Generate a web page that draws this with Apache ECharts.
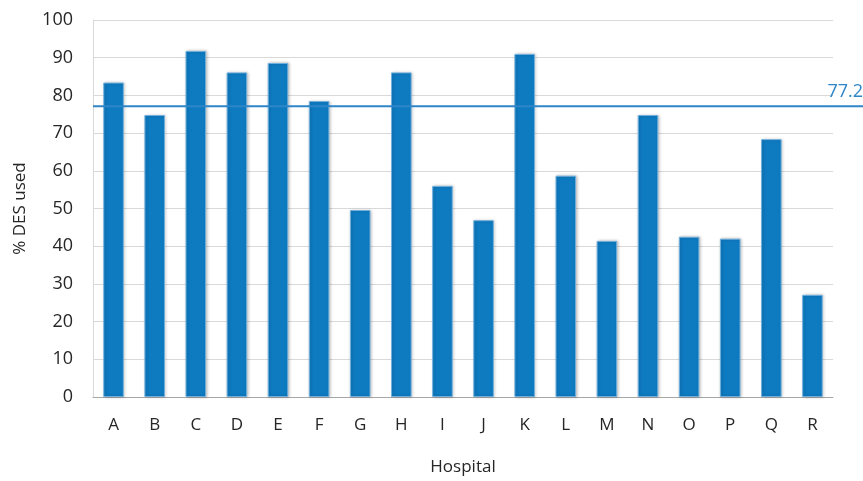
<!DOCTYPE html>
<html>
<head>
<meta charset="utf-8">
<script src="https://cdn.jsdelivr.net/npm/echarts@6/dist/echarts.min.js"></script>
<style>
html,body{margin:0;padding:0;background:#fff;}
#chart{width:863px;height:481px;}
</style>
</head>
<body>
<div id="chart"></div>
<script>
const categories = ['A','B','C','D','E','F','G','H','I','J','K','L','M','N','O','P','Q','R'];
const desUsed = [83.4, 74.8, 91.8, 86.1, 88.6, 78.5, 49.6, 86.1, 56.0, 46.9, 91.0, 58.7, 41.4, 74.8, 42.5, 42.0, 68.4, 27.1];
const averageValue = 77.2;
const yTicks = {min: 0, max: 100, interval: 10};

const FONT = '"Open Sans", sans-serif';
const chart = echarts.init(document.getElementById('chart'), null, {renderer: 'canvas'});
chart.setOption({
  animation: false,
  backgroundColor: '#ffffff',
  grid: [
    {left: 93, right: 30, top: 20, bottom: 83, containLabel: false},
    {left: 93, right: 0, top: 20, bottom: 83, containLabel: false}
  ],
  xAxis: [
    {
      type: 'category', data: categories, gridIndex: 0,
      axisLine: {show: true, lineStyle: {color: '#A6A6A6', width: 1}},
      axisTick: {show: false},
      axisLabel: {color: '#262626', fontFamily: FONT, fontSize: 17, margin: 20},
      name: 'Hospital', nameLocation: 'middle', nameGap: 62,
      nameTextStyle: {color: '#262626', fontFamily: FONT, fontSize: 17}
    },
    {type: 'value', gridIndex: 1, min: 0, max: 1, show: false}
  ],
  yAxis: [
    {
      type: 'value', gridIndex: 0, min: yTicks.min, max: yTicks.max, interval: yTicks.interval,
      axisLine: {show: true, lineStyle: {color: '#D9D9D9', width: 1}},
      axisTick: {show: false},
      splitLine: {show: true, lineStyle: {color: '#D9D9D9', width: 1}},
      axisLabel: {color: '#262626', fontFamily: FONT, fontSize: 18, margin: 20},
      name: '% DES used', nameLocation: 'middle', nameGap: 64, nameRotate: 90,
      nameTextStyle: {color: '#262626', fontFamily: FONT, fontSize: 17}
    },
    {type: 'value', gridIndex: 1, min: yTicks.min, max: yTicks.max, show: false}
  ],
  series: [
    {
      type: 'bar', xAxisIndex: 0, yAxisIndex: 0, data: desUsed,
      barWidth: '50%',
      itemStyle: {
        color: '#0E7AC0', borderColor: '#6FB0DE', borderWidth: 1,
        shadowBlur: 3, shadowColor: 'rgba(0,0,0,0.22)', shadowOffsetX: 1, shadowOffsetY: 0
      },
      z: 2
    },
    {
      type: 'line', xAxisIndex: 1, yAxisIndex: 1,
      data: [
        {value: [0, averageValue]},
        {value: [1, averageValue], label: {
          show: true, position: 'top', align: 'right', offset: [-3, -1],
          formatter: () => averageValue.toFixed(1),
          color: '#2E86C8', fontFamily: FONT, fontSize: 18
        }}
      ],
      symbol: 'circle', symbolSize: 0, showSymbol: true, clip: false,
      itemStyle: {color: '#2E86C8'},
      lineStyle: {color: '#2E86C8', width: 2},
      label: {show: false},
      labelLayout: {hideOverlap: false},
      z: 5
    }
  ]
});
</script>
</body>
</html>
